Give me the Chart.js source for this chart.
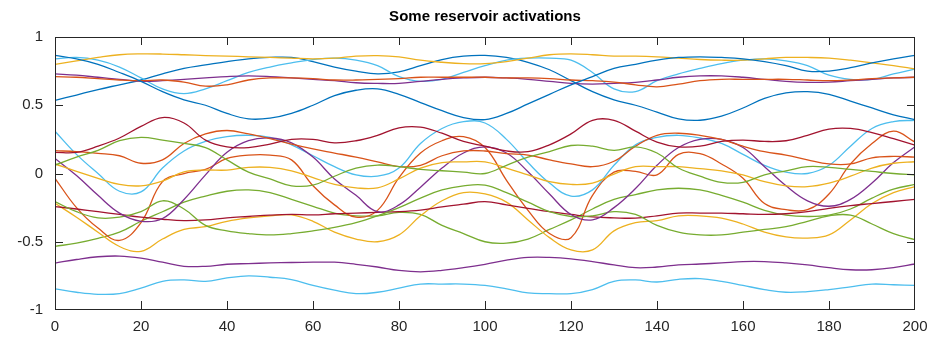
<!DOCTYPE html>
<html>
<head>
<meta charset="utf-8">
<script src="https://cdn.jsdelivr.net/npm/chart.js@4.4.1/dist/chart.umd.min.js"></script>
<style>
  html, body { margin: 0; padding: 0; background: #ffffff; }
  canvas { display: block; }
</style>
</head>
<body>
<canvas id="chart" width="936" height="347"></canvas>
<script>
// Time steps (samples every 5 steps)
const steps = [0,5,10,15,20,25,30,35,40,45,50,55,60,65,70,75,80,85,90,95,100,
               105,110,115,120,125,130,135,140,145,150,155,160,165,170,175,180,185,190,195,200];

const xTickValues = [0,20,40,60,80,100,120,140,160,180,200];
const yTickValues = [-1,-0.5,0,0.5,1];
const titleText = 'Some reservoir activations';

// Activation traces of individual reservoir units
const unitBlueA   = [0.865,0.84,0.80,0.74,0.675,0.60,0.54,0.50,0.44,0.40,0.405,0.44,0.50,0.57,0.61,0.62,0.58,0.52,0.46,0.41,0.395,0.44,0.51,0.58,0.65,0.71,0.77,0.80,0.83,0.85,0.855,0.85,0.84,0.82,0.79,0.75,0.75,0.775,0.81,0.84,0.865];
const unitBlueB   = [0.535,0.575,0.615,0.65,0.685,0.73,0.77,0.795,0.82,0.84,0.85,0.85,0.82,0.78,0.75,0.73,0.745,0.79,0.835,0.86,0.865,0.85,0.815,0.76,0.68,0.60,0.54,0.50,0.45,0.40,0.39,0.42,0.48,0.55,0.59,0.60,0.58,0.53,0.48,0.43,0.395];
const unitCyanTop = [0.84,0.85,0.83,0.78,0.70,0.62,0.585,0.62,0.68,0.74,0.78,0.81,0.835,0.845,0.83,0.79,0.71,0.675,0.69,0.74,0.79,0.83,0.845,0.845,0.83,0.74,0.62,0.60,0.68,0.73,0.77,0.805,0.83,0.84,0.825,0.79,0.72,0.69,0.69,0.73,0.765];
const unitYellowTop = [0.80,0.825,0.85,0.87,0.876,0.875,0.87,0.864,0.86,0.855,0.85,0.845,0.84,0.845,0.86,0.864,0.855,0.83,0.815,0.805,0.805,0.82,0.845,0.87,0.876,0.87,0.86,0.86,0.855,0.845,0.835,0.83,0.83,0.84,0.85,0.85,0.845,0.83,0.81,0.79,0.766];
const unitPurpleTop = [0.73,0.72,0.705,0.69,0.675,0.68,0.69,0.70,0.71,0.715,0.71,0.70,0.69,0.68,0.665,0.66,0.66,0.675,0.69,0.70,0.705,0.70,0.69,0.675,0.66,0.655,0.66,0.668,0.685,0.705,0.715,0.715,0.705,0.69,0.675,0.668,0.67,0.68,0.69,0.70,0.705];
const unitOrangeTop = [0.71,0.705,0.695,0.685,0.68,0.685,0.67,0.64,0.65,0.685,0.70,0.70,0.695,0.685,0.685,0.69,0.695,0.705,0.705,0.705,0.705,0.70,0.70,0.695,0.685,0.68,0.67,0.65,0.635,0.655,0.68,0.69,0.69,0.69,0.69,0.685,0.68,0.685,0.695,0.70,0.705];
const unitRedUpper = [0.155,0.155,0.20,0.26,0.345,0.41,0.37,0.245,0.195,0.19,0.215,0.25,0.25,0.225,0.24,0.28,0.335,0.34,0.295,0.235,0.20,0.165,0.16,0.21,0.29,0.39,0.39,0.31,0.23,0.195,0.20,0.235,0.245,0.235,0.24,0.28,0.325,0.33,0.30,0.255,0.208];
const unitCyanMid = [0.31,0.14,0.0,-0.13,-0.135,0.04,0.165,0.235,0.27,0.28,0.265,0.21,0.13,0.05,-0.01,-0.02,0.04,0.22,0.33,0.38,0.37,0.25,0.08,-0.07,-0.165,-0.12,0.06,0.21,0.265,0.28,0.26,0.22,0.14,0.06,0.01,0.0,0.06,0.2,0.33,0.38,0.39];
const unitOrangeB = [0.167,0.16,0.148,0.13,0.075,0.10,0.22,0.29,0.315,0.29,0.255,0.215,0.18,0.15,0.12,0.085,0.05,0.06,0.13,0.165,0.165,0.145,0.135,0.10,0.07,0.05,0.09,0.2,0.28,0.295,0.28,0.25,0.2,0.16,0.135,0.10,0.07,0.07,0.115,0.125,0.12];
const unitOrangeC = [-0.035,-0.25,-0.40,-0.49,-0.36,-0.06,0.0,0.03,0.11,0.135,0.135,0.10,-0.09,-0.23,-0.32,-0.27,-0.03,0.15,0.24,0.27,0.19,-0.05,-0.27,-0.44,-0.47,-0.16,0.01,0.015,-0.01,0.14,0.145,0.07,-0.035,-0.22,-0.265,-0.265,-0.15,0.07,0.22,0.31,0.23];
const unitPurpleMid = [0.11,-0.015,-0.16,-0.29,-0.35,-0.33,-0.19,-0.01,0.155,0.24,0.26,0.225,0.12,-0.04,-0.16,-0.28,-0.23,-0.10,0.04,0.15,0.195,0.15,0.013,-0.15,-0.30,-0.34,-0.25,-0.11,0.06,0.19,0.25,0.25,0.19,0.05,-0.09,-0.20,-0.24,-0.19,-0.07,0.08,0.196];
const unitYellowMid = [0.07,0.015,-0.035,-0.08,-0.09,-0.055,0.012,0.025,0.025,0.045,0.045,0.02,-0.03,-0.08,-0.105,-0.105,-0.04,0.04,0.08,0.085,0.085,0.04,-0.01,-0.06,-0.08,-0.07,-0.005,0.05,0.05,0.05,0.035,0.02,-0.01,-0.06,-0.09,-0.096,-0.07,-0.02,0.04,0.075,0.086];
const unitYellowLow = [-0.218,-0.32,-0.43,-0.535,-0.57,-0.48,-0.41,-0.39,-0.35,-0.325,-0.31,-0.303,-0.35,-0.43,-0.48,-0.50,-0.45,-0.31,-0.20,-0.14,-0.15,-0.21,-0.34,-0.47,-0.56,-0.56,-0.42,-0.36,-0.345,-0.31,-0.31,-0.327,-0.37,-0.43,-0.465,-0.473,-0.45,-0.34,-0.22,-0.14,-0.096];
const unitRedLower = [-0.242,-0.26,-0.28,-0.30,-0.32,-0.335,-0.345,-0.34,-0.325,-0.315,-0.305,-0.30,-0.303,-0.295,-0.29,-0.285,-0.28,-0.268,-0.245,-0.225,-0.206,-0.23,-0.255,-0.28,-0.30,-0.318,-0.325,-0.327,-0.31,-0.29,-0.29,-0.29,-0.295,-0.30,-0.295,-0.28,-0.255,-0.235,-0.22,-0.205,-0.189];
const unitGreenA = [0.062,0.12,0.17,0.24,0.264,0.245,0.22,0.19,0.10,0.01,-0.04,-0.09,-0.085,-0.02,0.04,0.062,0.05,0.03,0.02,0.01,0.0,0.06,0.12,0.16,0.205,0.20,0.17,0.195,0.15,0.04,-0.02,-0.065,-0.065,-0.01,0.02,0.05,0.045,0.03,0.015,0.0,-0.01];
const unitGreenB = [-0.206,-0.28,-0.325,-0.32,-0.28,-0.20,-0.26,-0.38,-0.42,-0.44,-0.45,-0.44,-0.42,-0.395,-0.36,-0.31,-0.25,-0.18,-0.12,-0.09,-0.085,-0.14,-0.21,-0.28,-0.315,-0.31,-0.28,-0.30,-0.38,-0.43,-0.45,-0.45,-0.43,-0.41,-0.39,-0.35,-0.31,-0.305,-0.37,-0.44,-0.485];
const unitGreenC = [-0.534,-0.51,-0.475,-0.43,-0.35,-0.28,-0.21,-0.165,-0.13,-0.12,-0.14,-0.19,-0.24,-0.29,-0.31,-0.31,-0.285,-0.30,-0.38,-0.44,-0.50,-0.51,-0.48,-0.41,-0.34,-0.26,-0.19,-0.155,-0.12,-0.108,-0.12,-0.16,-0.21,-0.27,-0.305,-0.315,-0.305,-0.26,-0.18,-0.115,-0.08];
const unitCyanLow = [-0.845,-0.87,-0.885,-0.88,-0.84,-0.79,-0.78,-0.79,-0.765,-0.75,-0.76,-0.777,-0.82,-0.855,-0.88,-0.87,-0.84,-0.81,-0.81,-0.81,-0.82,-0.845,-0.875,-0.88,-0.88,-0.85,-0.79,-0.78,-0.795,-0.775,-0.77,-0.79,-0.82,-0.85,-0.87,-0.865,-0.85,-0.83,-0.81,-0.815,-0.82];
const unitPurpleLow = [-0.656,-0.63,-0.61,-0.605,-0.62,-0.65,-0.68,-0.68,-0.665,-0.66,-0.655,-0.652,-0.65,-0.65,-0.665,-0.685,-0.71,-0.72,-0.71,-0.69,-0.665,-0.635,-0.615,-0.615,-0.625,-0.645,-0.67,-0.69,-0.685,-0.67,-0.663,-0.655,-0.645,-0.645,-0.655,-0.67,-0.69,-0.705,-0.705,-0.69,-0.663];

// Default line colour order
const C_BLUE = '#0072BD', C_ORANGE = '#D95319', C_YELLOW = '#EDB120', C_PURPLE = '#7E2F8E',
      C_GREEN = '#77AC30', C_CYAN = '#4DBEEE', C_RED = '#A2142F';

const traces = [
  [unitBlueA, C_BLUE], [unitOrangeTop, C_ORANGE], [unitYellowTop, C_YELLOW], [unitPurpleTop, C_PURPLE],
  [unitGreenA, C_GREEN], [unitCyanTop, C_CYAN], [unitRedUpper, C_RED],
  [unitBlueB, C_BLUE], [unitOrangeB, C_ORANGE], [unitYellowMid, C_YELLOW], [unitPurpleMid, C_PURPLE],
  [unitGreenB, C_GREEN], [unitCyanMid, C_CYAN], [unitRedLower, C_RED],
  [unitOrangeC, C_ORANGE], [unitYellowLow, C_YELLOW], [unitPurpleLow, C_PURPLE],
  [unitGreenC, C_GREEN], [unitCyanLow, C_CYAN]
];

const AXIS_COLOR = '#262626';
const FONT = '"Liberation Sans", Arial, Helvetica, sans-serif';

// Box around the axes with inward tick marks, plus the title
const axesBox = {
  id: 'axesBox',
  afterDraw(chart) {
    const ctx = chart.ctx;
    const a = chart.chartArea;
    const sx = chart.scales.x, sy = chart.scales.y;
    const len = 8;
    const L = Math.round(a.left), R = Math.round(a.right) - 1;
    const T = Math.round(a.top), B = Math.round(a.bottom) - 1;
    ctx.save();
    ctx.globalAlpha = 1;
    ctx.globalCompositeOperation = 'source-over';
    ctx.fillStyle = AXIS_COLOR;
    // frame
    ctx.fillRect(L, T, R - L + 1, 1);
    ctx.fillRect(L, B, R - L + 1, 1);
    ctx.fillRect(L, T, 1, B - T + 1);
    ctx.fillRect(R, T, 1, B - T + 1);
    // inward ticks on all four sides
    xTickValues.forEach(v => {
      const px = Math.round(sx.getPixelForValue(v));
      ctx.fillRect(Math.min(Math.max(px, L), R), B - len, 1, len);
      ctx.fillRect(Math.min(Math.max(px, L), R), T, 1, len);
    });
    yTickValues.forEach(v => {
      const py = Math.round(sy.getPixelForValue(v));
      const yy = Math.min(Math.max(py, T), B);
      ctx.fillRect(L, yy, len, 1);
      ctx.fillRect(R - len + 1, yy, len, 1);
    });
    ctx.fillStyle = '#000000';
    ctx.font = 'bold 15px ' + FONT;
    ctx.textAlign = 'center';
    ctx.textBaseline = 'middle';
    ctx.fillText(titleText, (a.left + a.right) / 2, 17);
    ctx.restore();
  }
};

new Chart(document.getElementById('chart'), {
  type: 'line',
  data: {
    labels: steps,
    datasets: traces.map(([values, color]) => ({
      data: values,
      borderColor: color,
      borderWidth: 1.3,
      pointRadius: 0,
      tension: 0.4,
      fill: false
    }))
  },
  options: {
    responsive: false,
    animation: false,
    events: [],
    layout: { padding: { top: 37, right: 21, left: 0, bottom: 0 } },
    plugins: { legend: { display: false }, tooltip: { enabled: false }, title: { display: false } },
    scales: {
      x: {
        type: 'linear', min: 0, max: 200,
        afterBuildTicks: s => { s.ticks = xTickValues.map(v => ({ value: v })); },
        afterFit: s => { s.height = 37; },
        grid: { display: false, drawTicks: false },
        border: { display: false },
        ticks: { color: AXIS_COLOR, font: { size: 15, family: FONT }, padding: 8, maxRotation: 0,
                 callback: v => String(v) }
      },
      y: {
        type: 'linear', min: -1, max: 1,
        afterBuildTicks: s => { s.ticks = yTickValues.map(v => ({ value: v })); },
        afterFit: s => { s.width = 55; },
        grid: { display: false, drawTicks: false },
        border: { display: false },
        ticks: { color: AXIS_COLOR, font: { size: 15, family: FONT }, padding: 12,
                 callback: v => String(v) }
      }
    }
  },
  plugins: [axesBox]
});
</script>
</body>
</html>
